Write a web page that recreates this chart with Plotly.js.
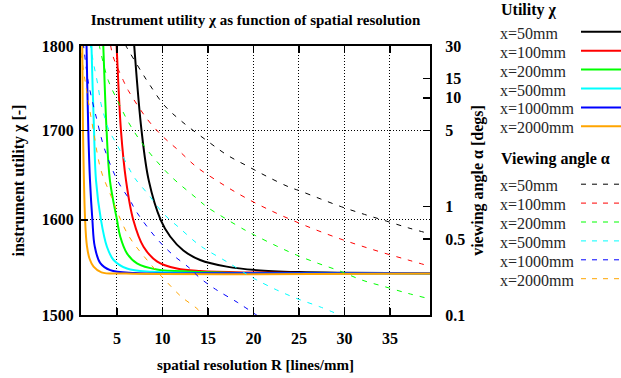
<!DOCTYPE html>
<html><head><meta charset="utf-8">
<script src="https://cdn.plot.ly/plotly-3.0.1.min.js"></script>
<style>html,body{margin:0;padding:0;background:#fff;}</style>
</head><body>
<div id="chart" style="width:621px;height:378px"></div>
<script>
// ---- data ----
const seriesNames = ['x=50mm', 'x=100mm', 'x=200mm', 'x=500mm', 'x=1000mm', 'x=2000mm'];
const seriesColors = ['#000000', '#ff0000', '#00ff00', '#00ffff', '#0000ff', '#ffa500'];

// Utility chi (left axis), R in lines/mm
const utilR_50   = [6.6, 6.9, 7.7, 8.5, 9.8, 10.85, 12.3, 14.14, 17.07, 20.37, 25, 30, 39.4];
const utilChi_50 = [1850, 1800, 1700, 1643, 1600, 1582, 1567, 1557, 1550, 1546.3, 1544.3, 1543.5, 1543];
const utilR_100   = [4.7, 4.96, 5.44, 6.0, 6.79, 7.92, 9.39, 11.59, 14.14, 20, 30, 39.4];
const utilChi_100 = [1855, 1800, 1700, 1643, 1600, 1571, 1555.6, 1548, 1545.3, 1543.8, 1543.2, 1543];
const utilR_200   = [3.3, 3.5, 3.86, 4.23, 5.0, 5.36, 6.1, 7.2, 9.39, 13.4, 20, 39.4];
const utilChi_200 = [1860, 1800, 1700, 1643, 1600, 1582, 1564, 1553.4, 1547, 1544.7, 1543.3, 1543];
const utilR_500   = [2.05, 2.2, 2.48, 2.7, 3.24, 3.9, 4.63, 6.1, 8.9, 20, 39.4];
const utilChi_500 = [1870, 1800, 1700, 1643, 1600, 1571, 1557, 1548, 1544.5, 1543, 1543];
const utilR_1000   = [1.55, 1.66, 1.85, 2.04, 2.3, 2.55, 3.15, 4.26, 7, 15, 39.4];
const utilChi_1000 = [1870, 1800, 1700, 1643, 1600, 1572, 1554, 1546.3, 1543.3, 1543, 1543];
const utilR_2000   = [1.1, 1.19, 1.27, 1.5, 1.7, 2.0, 2.43, 3.3, 6, 39.4];
const utilChi_2000 = [1860, 1800, 1700, 1600, 1572, 1558, 1550, 1544, 1542.7, 1542.7];

// Viewing angle alpha (right axis, degrees)
const angR_50   = [5.9, 6.05, 7.7, 8.62, 10.19, 12.09, 15.06, 17.14, 19.34, 21.58, 23.9, 25.1, 27.4, 29.7, 32.2, 34.6, 37.0, 39.2];
const angA_50   = [31, 29.4, 17.3, 13.1, 8.55, 6.09, 3.93, 2.96, 2.35, 1.87, 1.51, 1.39, 1.17, 0.99, 0.844, 0.733, 0.635, 0.565];
const angR_100  = [4.3, 4.59, 5.69, 6.24, 8.36, 10.08, 11.73, 13.74, 15.87, 17.99, 20.26, 22.56, 24.93, 27.2, 29.6, 31.9, 34.45, 37.0, 39.2];
const angA_100  = [30.5, 23.8, 14.5, 11.7, 6.31, 4.37, 3.30, 2.31, 1.75, 1.36, 1.07, 0.863, 0.707, 0.593, 0.5, 0.431, 0.37, 0.321, 0.284];
const angR_200  = [3.05, 3.13, 4.04, 5.14, 6.24, 7.52, 9.09, 10.99, 13.74, 14.88, 16.89, 19.08, 20.26, 22.56, 24.76, 27.1, 29.5, 31.9, 34.45, 37.0, 39.2];
const angA_200  = [31, 28.4, 14.5, 9.17, 6.0, 4.07, 2.77, 1.87, 1.19, 0.99, 0.776, 0.605, 0.537, 0.431, 0.356, 0.299, 0.254, 0.21, 0.182, 0.158, 0.142];
const angR_500  = [2.0, 2.15, 2.43, 2.87, 3.24, 3.64, 4.12, 5.14, 6.24, 6.98, 8.51, 10.08, 11.92, 13.8, 14.88, 17.08, 19.27, 20.37, 22.56, 24.93, 27.3, 29.6];
const angA_500  = [32, 28.4, 20.7, 13.6, 8.87, 6.67, 5.03, 3.53, 2.31, 1.81, 1.27, 0.863, 0.628, 0.457, 0.396, 0.309, 0.237, 0.21, 0.17, 0.14, 0.119, 0.099];
const angR_1000 = [1.3, 1.4, 1.85, 2.76, 3.68, 5.14, 6.43, 7.15, 9.35, 11.18, 13.01, 13.96, 15.06, 16.15, 18.28, 20.4];
const angA_1000 = [32, 27, 14, 6.45, 3.3, 1.68, 1.14, 0.89, 0.508, 0.356, 0.269, 0.225, 0.191, 0.166, 0.130, 0.099];
const angR_2000 = [1.05, 1.66, 2.4, 3.24, 4.23, 6.24, 8.62, 10.27, 12.09, 13.96, 14.3];
const angA_2000 = [26, 11.7, 5.03, 2.16, 1.32, 0.544, 0.299, 0.21, 0.147, 0.111, 0.099];

const xTicks = [5, 10, 15, 20, 25, 30, 35];
const yTicks = [1500, 1600, 1700, 1800];
const y2Ticks = [0.1, 0.5, 1, 5, 10, 15, 30];

const utilR = [utilR_50, utilR_100, utilR_200, utilR_500, utilR_1000, utilR_2000];
const utilChi = [utilChi_50, utilChi_100, utilChi_200, utilChi_500, utilChi_1000, utilChi_2000];
const angR = [angR_50, angR_100, angR_200, angR_500, angR_1000, angR_2000];
const angA = [angA_50, angA_100, angA_200, angA_500, angA_1000, angA_2000];

// ---- traces ----
const traces = [];
for (let i = 0; i < seriesNames.length; i++) {
  traces.push({x: angR[i], y: angA[i], yaxis: 'y2', mode: 'lines', name: seriesNames[i],
    line: {color: seriesColors[i], width: 1, dash: '5px,7px', shape: 'spline', smoothing: 1},
    showlegend: false, hoverinfo: 'skip'});
}
for (let i = 0; i < seriesNames.length; i++) {
  traces.push({x: utilR[i], y: utilChi[i], mode: 'lines', name: seriesNames[i],
    line: {color: seriesColors[i], width: 2, shape: 'spline', smoothing: 1},
    showlegend: false, hoverinfo: 'skip'});
}

// ---- custom gnuplot-style legend (text left, sample right) ----
const L = 81, W = 349, T = 46, H = 269;
const px = v => (v - L) / W;
const py = v => (T + H - v) / H;
const font = 'Liberation Serif';
const annotations = [];
const shapes = [];
function header(text, y) {
  annotations.push({text: text, xref: 'paper', yref: 'paper', x: px(499), y: py(y),
    xanchor: 'left', yanchor: 'middle', showarrow: false,
    font: {family: font, size: 16, color: '#000', weight: 'bold'}});
}
function entry(text, y, color, dash) {
  annotations.push({text: text, xref: 'paper', yref: 'paper', x: px(498), y: py(y),
    xanchor: 'left', yanchor: 'middle', showarrow: false,
    font: {family: font, size: 16, color: '#262626'}});
  shapes.push({type: 'line', xref: 'paper', yref: 'paper', x0: px(581), x1: px(621), y0: py(y - 1.5), y1: py(y - 1.5),
    line: {color: color, width: dash ? 1 : 2, dash: dash ? '5px,6px' : 'solid'}});
}
header('Utility χ', 10);
for (let i = 0; i < seriesNames.length; i++) entry(seriesNames[i], 33.3 + i * 18.9, seriesColors[i], false);
header('Viewing angle α', 158.5);
for (let i = 0; i < seriesNames.length; i++) entry(seriesNames[i], 185.7 + i * 18.9, seriesColors[i], true);

const tickFont = {family: font, size: 16, color: '#000', weight: 'bold'};
const layout = {
  width: 621, height: 378,
  margin: {l: 81, r: 191, t: 46, b: 63},
  paper_bgcolor: '#fff', plot_bgcolor: '#fff',
  showlegend: false,
  title: {text: 'Instrument utility χ as function of spatial resolution', x: 255.5 / 621, xanchor: 'center', y: 1 - 20 / 378, yanchor: 'middle',
    font: {family: font, size: 15, color: '#000', weight: 'bold'}},
  xaxis: {range: [1.05, 39.4], tickvals: xTicks, ticktext: xTicks.map(String), ticks: 'inside', ticklen: 7, tickwidth: 1.5, tickcolor: '#000',
    showline: true, linewidth: 2, linecolor: '#000', mirror: 'ticks', showgrid: true, gridcolor: '#000', gridwidth: 1, griddash: '1px,2px',
    zeroline: false, tickfont: tickFont, ticklabelstandoff: 8,
    title: {text: 'spatial resolution R [lines/mm]', font: {family: font, size: 15, color: '#000', weight: 'bold'}, standoff: 13}},
  yaxis: {type: 'log', range: [Math.log10(1500), Math.log10(1800)], tickvals: yTicks, ticktext: yTicks.map(String), ticks: 'inside', ticklen: 7, tickwidth: 1.5,
    tickcolor: '#000', showline: true, linewidth: 2, linecolor: '#000', mirror: true, showgrid: true, gridcolor: '#000', gridwidth: 1, griddash: '1px,2px',
    zeroline: false, tickfont: tickFont, ticklabelstandoff: 2,
    title: {text: 'instrument utility χ [-]', font: {family: font, size: 16, color: '#000', weight: 'bold'}, standoff: 13}},
  yaxis2: {type: 'log', overlaying: 'y', side: 'right', range: [-1, Math.log10(30)], tickvals: y2Ticks, ticktext: y2Ticks.map(String), ticks: 'inside', ticklen: 7, tickwidth: 1.5,
    tickcolor: '#000', showline: true, linewidth: 2, linecolor: '#000', showgrid: false, zeroline: false, tickfont: tickFont, ticklabelstandoff: 10,
    title: {text: 'viewing angle α [degs]', font: {family: font, size: 16, color: '#000', weight: 'bold'}, standoff: 8}},
  annotations: annotations,
  shapes: shapes
};
Plotly.newPlot('chart', traces, layout, {staticPlot: true, displayModeBar: false});
</script>
</body></html>
